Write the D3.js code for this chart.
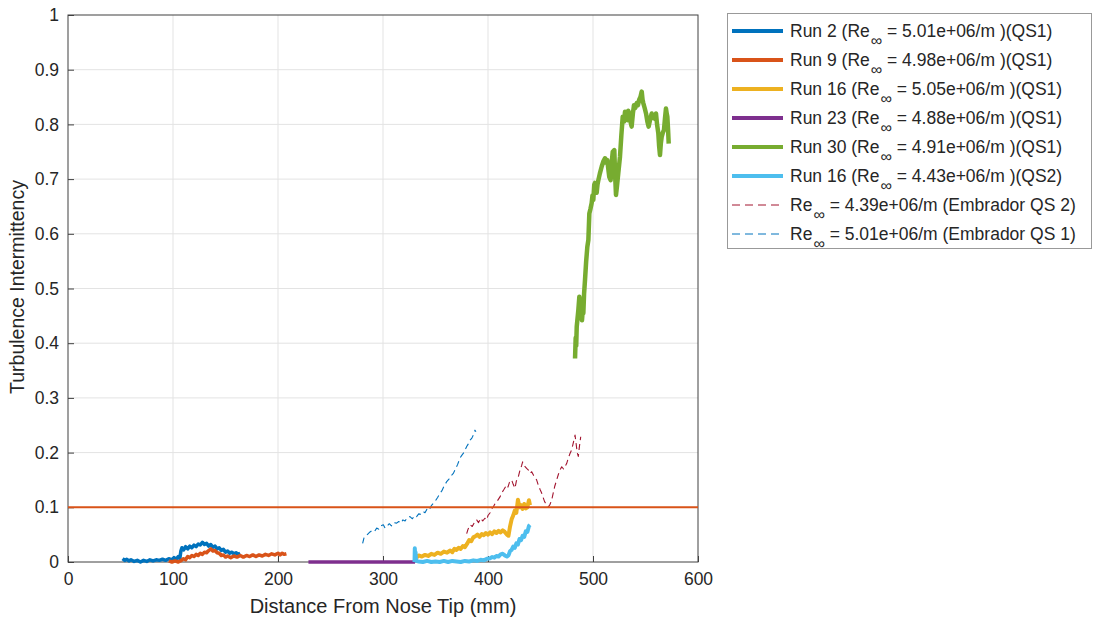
<!DOCTYPE html>
<html><head><meta charset="utf-8">
<script src="https://cdn.jsdelivr.net/npm/d3@7"></script>
<style>body{margin:0;background:#fff}svg{display:block}text{font-family:"Liberation Sans",Arial,sans-serif;fill:#262626}</style>
</head><body><svg id="c" width="1094" height="622"></svg>
<script>
const xTicks=[0,100,200,300,400,500,600];
const yTicks=[0,0.1,0.2,0.3,0.4,0.5,0.6,0.7,0.8,0.9,1];
const threshold=0.1;
const legendLabels=[
 ["Run 2 (Re"," = 5.01e+06/m )(QS1)"],
 ["Run 9 (Re"," = 4.98e+06/m )(QS1)"],
 ["Run 16 (Re"," = 5.05e+06/m )(QS1)"],
 ["Run 23 (Re"," = 4.88e+06/m )(QS1)"],
 ["Run 30 (Re"," = 4.91e+06/m )(QS1)"],
 ["Run 16 (Re"," = 4.43e+06/m )(QS2)"],
 ["Re"," = 4.39e+06/m (Embrador QS 2)"],
 ["Re"," = 5.01e+06/m (Embrador QS 1)"]];
const colors=["#0072BD","#D95319","#EDB120","#7E2F8E","#77AC30","#4DBEEE","#A2142F","#0072BD"];

const run2=[[52,0.006],[54,0.003],[56,0.005],[58,0.002],[60,0.004],[63,0.001],[66,0.003],[69,0.0],[72,0.003],[75,0.001],[78,0.004],[81,0.002],[84,0.004],[87,0.003],[90,0.005],[93,0.003],[96,0.006],[99,0.004],[101,0.008],[103,0.005],[105,0.01],[106.5,0.006],[107.5,0.02],[108.5,0.026],[110,0.022],[112,0.028],[114,0.024],[116,0.029],[118,0.026],[120,0.031],[122,0.028],[124,0.033],[126,0.031],[128,0.036],[130,0.032],[132,0.034],[134,0.029],[136,0.032],[138,0.027],[140,0.029],[142,0.024],[144,0.026],[146,0.021],[148,0.023],[150,0.018],[152,0.02],[154,0.016],[156,0.018],[158,0.015],[160,0.017],[162,0.014],[164,0.016]];
const run9=[[96,0.002],[99,0.0],[102,0.002],[105,0.0],[108,0.003],[110,0.006],[112,0.004],[114,0.01],[116,0.008],[118,0.012],[120,0.01],[122,0.014],[124,0.012],[126,0.016],[128,0.014],[130,0.018],[132,0.017],[134,0.021],[136,0.024],[138,0.02],[140,0.021],[142,0.017],[144,0.016],[146,0.012],[148,0.013],[150,0.009],[152,0.011],[155,0.008],[158,0.011],[161,0.009],[164,0.012],[167,0.009],[170,0.012],[173,0.01],[176,0.013],[179,0.01],[182,0.013],[185,0.011],[188,0.014],[191,0.012],[194,0.015],[197,0.013],[200,0.016],[202,0.013],[204,0.016],[206,0.014],[208,0.015]];
const run16a=[[332,0.008],[334,0.012],[337,0.01],[340,0.013],[343,0.011],[346,0.015],[349,0.013],[352,0.017],[355,0.015],[358,0.019],[361,0.017],[364,0.021],[366,0.018],[368,0.024],[370,0.022],[372,0.026],[374,0.024],[376,0.029],[378,0.027],[380,0.033],[382,0.04],[384,0.038],[386,0.045],[388,0.047],[390,0.05],[392,0.046],[394,0.051],[396,0.049],[398,0.053],[400,0.05],[402,0.054],[404,0.051],[406,0.056],[408,0.053],[410,0.057],[412,0.054],[414,0.058],[416,0.055],[418,0.05],[419.5,0.048],[421,0.065],[422.5,0.078],[424,0.085],[425.5,0.094],[427,0.09],[428.5,0.114],[430,0.1],[431.5,0.104],[433,0.097],[434.5,0.106],[436,0.098],[437.5,0.1],[439,0.113],[440,0.104]];
const run23=[[229,0],[240,0],[260,0],[280,0],[300,0],[320,0],[330.5,0]];
const run30=[[482.9,0.372],[483.5,0.41],[484,0.395],[484.5,0.43],[485.1,0.442],[486,0.46],[487,0.485],[487.6,0.47],[488.3,0.467],[489,0.45],[489.5,0.442],[490.2,0.46],[490.8,0.455],[491.5,0.49],[492.4,0.516],[493.5,0.55],[494.6,0.576],[495.6,0.589],[496.5,0.637],[497.5,0.645],[498.7,0.656],[499.5,0.67],[500.3,0.662],[501.2,0.69],[501.9,0.693],[502.8,0.68],[503.5,0.675],[504.3,0.69],[505.1,0.698],[506.5,0.71],[508.3,0.723],[510,0.733],[511.4,0.738],[512.5,0.73],[513.6,0.735],[514.5,0.72],[515.5,0.704],[516.8,0.698],[517.8,0.73],[518.8,0.75],[520.3,0.753],[521,0.71],[521.9,0.671],[523,0.69],[524.1,0.711],[525.7,0.741],[527,0.78],[528.3,0.814],[529.5,0.805],[530.5,0.823],[531.5,0.81],[532.7,0.808],[533.6,0.825],[534.6,0.82],[535.7,0.805],[536.8,0.796],[538,0.82],[539,0.835],[540.3,0.83],[541.6,0.839],[542.8,0.835],[544,0.845],[545.2,0.85],[546.4,0.86],[547.2,0.845],[547.9,0.839],[549.2,0.83],[550.5,0.82],[551.8,0.805],[553,0.796],[554.5,0.81],[555.9,0.82],[557,0.812],[558.1,0.814],[559,0.81],[560,0.82],[561,0.8],[562.2,0.784],[563,0.76],[563.8,0.744],[564.6,0.765],[565.4,0.777],[566.5,0.785],[567.6,0.79],[568.5,0.81],[569.5,0.829],[570.2,0.82],[570.8,0.814],[571.5,0.79],[572.1,0.765]];
const run16b=[[330,0.0],[330.3,0.025],[330.7,0.005],[331,0.018],[331.5,0.002],[334,0.001],[338,0.0],[342,0.002],[346,0.0],[350,0.001],[354,0.0],[358,0.002],[362,0.0],[366,0.002],[370,0.001],[374,0.0],[378,0.002],[382,0.001],[386,0.003],[390,0.002],[393,0.004],[396,0.003],[399,0.006],[402,0.007],[404,0.009],[406,0.008],[408,0.011],[410,0.01],[412,0.014],[414,0.015],[416,0.012],[418,0.01],[419.5,0.012],[421,0.02],[422.5,0.022],[424,0.028],[425.5,0.026],[427,0.034],[428.5,0.032],[430,0.042],[431.5,0.04],[433,0.048],[434.5,0.046],[436,0.056],[437.5,0.055],[439,0.066],[440,0.068]];
const embQS2=[[379.7,0.052],[381,0.06],[383,0.068],[385,0.065],[387,0.072],[389.2,0.077],[391,0.072],[393,0.08],[395,0.075],[397,0.08],[398.7,0.077],[400,0.085],[402,0.09],[403.5,0.097],[405.1,0.101],[407,0.108],[409,0.112],[411.4,0.119],[413,0.126],[415,0.132],[417.8,0.141],[419,0.137],[420.5,0.146],[422.5,0.15],[424,0.142],[425.7,0.135],[427,0.148],[428.9,0.156],[430.5,0.168],[432,0.176],[433,0.183],[434.5,0.176],[436.8,0.171],[438.5,0.168],[440,0.162],[441.6,0.165],[443.5,0.158],[445,0.155],[446.3,0.15],[448,0.14],[449.5,0.133],[451.1,0.126],[452.5,0.118],[454,0.11],[455.9,0.104],[457.5,0.101],[459,0.105],[460.6,0.113],[462,0.125],[463.5,0.138],[465.4,0.15],[467,0.16],[468.5,0.168],[470.2,0.174],[472,0.17],[474.9,0.18],[476.5,0.19],[478,0.198],[479.7,0.205],[481.5,0.22],[482.9,0.232],[484,0.215],[485,0.2],[486,0.193],[487,0.21],[488.3,0.229]];
const embQS1=[[280.6,0.034],[282,0.045],[284,0.048],[286,0.052],[287.6,0.055],[290,0.058],[292,0.056],[294,0.062],[296,0.06],[298,0.066],[300.3,0.068],[302,0.062],[304,0.066],[306,0.07],[308,0.066],[310,0.072],[313,0.071],[315,0.074],[317,0.071],[319,0.077],[321,0.075],[323,0.081],[325.7,0.083],[328,0.079],[330,0.085],[332,0.083],[334,0.088],[336,0.087],[338.4,0.092],[340,0.09],[342,0.097],[344,0.095],[346,0.103],[347.9,0.107],[350,0.112],[352,0.118],[354.3,0.126],[356,0.13],[358,0.138],[360.7,0.147],[363,0.152],[365,0.158],[367,0.162],[369,0.17],[371,0.178],[373.3,0.19],[375,0.195],[377,0.2],[379.7,0.211],[381,0.215],[382.5,0.222],[384.5,0.226],[386,0.232],[387.6,0.241],[388.5,0.238]];

const series=[run2,run9,run16a,run23,run30,run16b,embQS2,embQS1];
const dashed=[false,false,false,false,false,false,true,true];
const widths=[3.5,3.5,4,3.5,4.5,4,1.1,1.1];

const svg=d3.select("#c");
svg.append("rect").attr("width",1094).attr("height",622).attr("fill","#fff");
const L=68,R=698,T=15,B=562;
const x=d3.scaleLinear().domain([0,600]).range([L,R]);
const y=d3.scaleLinear().domain([0,1]).range([B,T]);

const g=svg.append("g");
g.selectAll(".gx").data(xTicks.slice(1,-1)).join("line").attr("x1",d=>x(d)).attr("x2",d=>x(d)).attr("y1",T).attr("y2",B).attr("stroke","#e3e3e3").attr("stroke-width",1);
g.selectAll(".gy").data(yTicks.slice(1,-1)).join("line").attr("y1",d=>y(d)).attr("y2",d=>y(d)).attr("x1",L).attr("x2",R).attr("stroke","#e3e3e3").attr("stroke-width",1);

const xa=svg.append("g").attr("transform",`translate(0,${B})`).call(d3.axisBottom(x).tickValues(xTicks).tickSize(-6).tickPadding(11).tickFormat(d3.format("d")));
const ya=svg.append("g").attr("transform",`translate(${L},0)`).call(d3.axisLeft(y).tickValues(yTicks).tickSize(-6).tickPadding(9).tickFormat(d=>d===0||d===1?String(d):d3.format(".1f")(d)));
[xa,ya].forEach(a=>{a.select(".domain").remove();a.selectAll("line").attr("stroke","#404040");a.selectAll("text").attr("font-size",17.5).attr("fill","#262626").style("font-family","'Liberation Sans',Arial,sans-serif");});
svg.append("rect").attr("x",L).attr("y",T).attr("width",R-L).attr("height",B-T).attr("fill","none").attr("stroke","#404040").attr("stroke-width",1);

const line=d3.line().x(d=>x(d[0])).y(d=>y(d[1]));
series.forEach((s,i)=>{
  svg.append("path").datum(s).attr("d",line).attr("fill","none").attr("stroke",colors[i])
   .attr("stroke-width",widths[i]).attr("stroke-linejoin","round")
   .attr("stroke-dasharray",dashed[i]?"6,4":null);
});
svg.append("line").attr("x1",x(0)).attr("x2",x(600)).attr("y1",y(threshold)).attr("y2",y(threshold)).attr("stroke","#D95319").attr("stroke-width",2);

svg.append("text").attr("x",383).attr("y",613).attr("text-anchor","middle").attr("font-size",20).text("Distance From Nose Tip (mm)");
svg.append("text").attr("transform","translate(24,287) rotate(-90)").attr("text-anchor","middle").attr("font-size",19.5).text("Turbulence Intermittency");

const lg=svg.append("g");
lg.append("rect").attr("x",727.5).attr("y",13.5).attr("width",364).attr("height",235).attr("fill","#fff").attr("stroke","#999").attr("stroke-width",1);
legendLabels.forEach((lab,i)=>{
  const cy=31+i*29;
  lg.append("line").attr("x1",732).attr("x2",783).attr("y1",cy).attr("y2",cy).attr("stroke",colors[i]).attr("stroke-width",dashed[i]?1:4).attr("stroke-dasharray",dashed[i]?"8,5":null);
  const t=lg.append("text").attr("x",790).attr("y",cy+6).attr("font-size",17.5);
  t.append("tspan").text(lab[0]);
  t.append("tspan").attr("dx",1).attr("dy",9).attr("font-size",16).text("∞");
  t.append("tspan").attr("dy",-9).text(lab[1]);
});
</script></body></html>
